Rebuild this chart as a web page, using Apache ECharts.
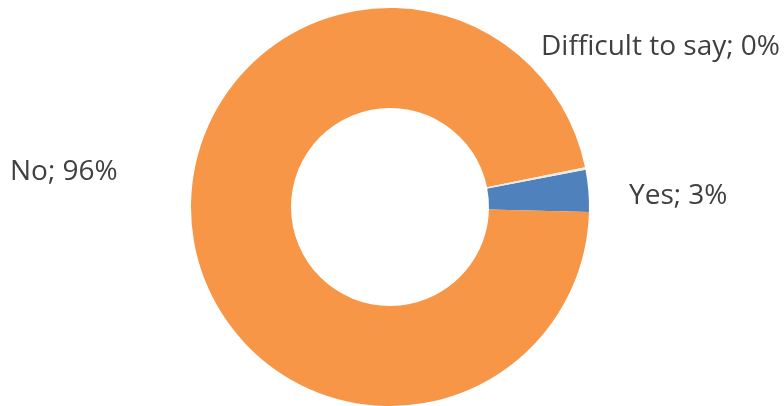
<!DOCTYPE html>
<html>
<head>
<meta charset="utf-8">
<script src="https://cdn.jsdelivr.net/npm/echarts@6/dist/echarts.min.js"></script>
<style>
  html, body { margin: 0; padding: 0; background: #fff; }
</style>
</head>
<body>
<div id="main" style="width: 784px;height:406px;"></div>
<script>
// data
const names = ["Yes", "No", "Difficult to say"];
const shares = [3.4, 96.4, 0.2];
const colors = ["#4F81BD", "#F79646", "#EEECE1"];

// where each label sits (left edge, middle)
const labelPos = [[629, 196], [10, 172], [541, 47]];

let myChart = echarts.init(document.getElementById("main"));

let total = shares.reduce((a, b) => a + b, 0);

let option = {
  animation: false,
  series: [
    {
      type: "pie",
      center: [390, 207],
      radius: [99, 199],
      startAngle: 10.8,
      clockwise: true,
      avoidLabelOverlap: false,
      itemStyle: { borderWidth: 0 },
      label: {
        show: true,
        position: "outside",
        color: "#404040",
        fontSize: 28,
        fontFamily: "Open Sans",
        formatter: function (p) {
          return p.name + "; " + Math.round(p.value / total * 100) + "%";
        }
      },
      labelLine: { show: false },
      labelLayout: function (p) {
        let pos = labelPos[p.dataIndex];
        return { x: pos[0], y: pos[1], align: "left", verticalAlign: "middle" };
      },
      data: names.map((n, i) => ({
        name: n,
        value: shares[i],
        itemStyle: { color: colors[i] }
      }))
    }
  ]
};

myChart.setOption(option);
</script>
</body>
</html>
